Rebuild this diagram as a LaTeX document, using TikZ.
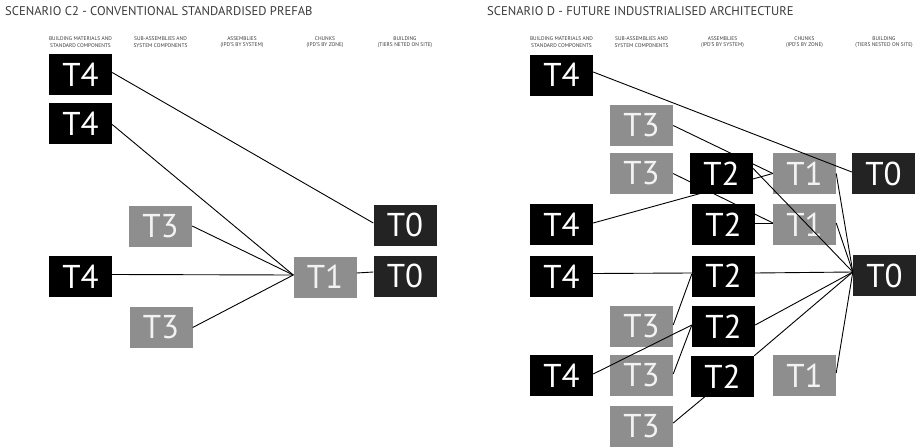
\documentclass[tikz,border=0pt]{standalone}
\usepackage{fontspec}
\setmainfont{PT Sans}
\pgfdeclarelayer{under}
\pgfdeclarelayer{over}
\pgfsetlayers{under,main,over}
\definecolor{tiergrey}{HTML}{8E8E8E}
\definecolor{tierdark}{HTML}{232323}
\definecolor{headgrey}{HTML}{3A3A3A}
\begin{document}
\begin{tikzpicture}[x=1pt,y=-1pt,
  tier/.style={minimum width=63pt,minimum height=41pt,inner sep=0pt,
    text=white,font=\fontsize{33}{33}\selectfont},
  blk/.style={tier,fill=black},
  gry/.style={tier,fill=tiergrey,text=white!95!black},
  drk/.style={tier,fill=tierdark},
  link/.style={line width=0.9pt,black},
  head/.style={font=\fontsize{5.4}{6.3}\selectfont,align=center,text=headgrey},
  title/.style={font=\fontsize{12.6}{12.6}\selectfont,anchor=west,inner sep=0pt,text=headgrey}
]
\useasboundingbox (0,0) rectangle (923,447);

% ---------- left panel: conventional standardised prefab ----------
\node[title] (lt) at (5,11) {SCENARIO C2 - CONVENTIONAL STANDARDISED PREFAB};
\node[head] (lh1) at (80.5,42) {BUILDING MATERIALS AND\\STANDARD COMPONENTS};
\node[head] (lh2) at (160.5,42) {SUB-ASSEMBLIES AND\\SYSTEM COMPONENTS};
\node[head] (lh3) at (242,42) {ASSEMBLIES\\(IPD'S BY SYSTEM)};
\node[head] (lh4) at (325,42) {CHUNKS\\(IPD'S BY ZONE)};
\node[head] (lh5) at (405,42) {BUILDING\\(TIERS NETED ON SITE)};

\node[blk] (l4a) at (80.5,74.5) {T4};
\node[blk] (l4b) at (80.5,123.5) {T4};
\node[gry] (l3a) at (160.5,226) {T3};
\node[blk] (l4c) at (80.5,276.5) {T4};
\node[gry] (l3b) at (161,327.5) {T3};
\node[gry] (l1)  at (325,277) {T1};
\node[drk] (l0a) at (405,225) {T0};
\node[drk] (l0b) at (405,276) {T0};

\draw[link] ([yshift=2pt]l4a.east) -- ([yshift=2pt]l0a.west);
\draw[link] ([yshift=-1pt]l4b.east) -- ([yshift=2pt]l1.west);
\draw[link] (l3a.east) -- ([yshift=2pt]l1.west);
\draw[link] ([yshift=2pt]l4c.east) -- ([yshift=2pt]l1.west);
\draw[link] (l3b.east) -- ([yshift=2pt]l1.west);
\draw[link] ([yshift=4pt]l1.east) -- ([yshift=4pt]l0b.west);

% ---------- right panel: future industrialised architecture ----------
\node[title] (rt) at (487,11) {SCENARIO D - FUTURE INDUSTRIALISED ARCHITECTURE};
\node[head] (rh1) at (561.5,42) {BUILDING MATERIALS AND\\STANDARD COMPONENTS};
\node[head] (rh2) at (641.5,42) {SUB-ASSEMBLIES AND\\SYSTEM COMPONENTS};
\node[head] (rh3) at (722.5,42) {ASSEMBLIES\\(IPD'S BY SYSTEM)};
\node[head] (rh4) at (804.5,42) {CHUNKS\\(IPD'S BY ZONE)};
\node[head] (rh5) at (884,42) {BUILDING\\(TIERS NESTED ON SITE)};

\node[blk] (r4a) at (561.5,75) {T4};
\node[gry] (r3a) at (641.5,125.5) {T3};
\node[gry] (r3b) at (641.5,173.5) {T3};
\node[blk] (r4b) at (561.5,224.5) {T4};
\node[blk] (r4c) at (561.5,276.5) {T4};
\node[gry] (r3c) at (641.5,326.5) {T3};
\node[blk] (r4d) at (561.5,375.5) {T4};
\node[gry] (r3d) at (641.5,375.5) {T3};
\node[gry] (r3e) at (641.5,426.5) {T3};
\node[drk] (r0a) at (883.5,173.5) {T0};
\node[drk] (r0b) at (884.5,275.5) {T0};

% chunks sit beneath the connectors
\begin{pgfonlayer}{under}
\node[gry] (r1a) at (804.5,173.5) {T1};
\node[gry] (r1b) at (804.5,224.5) {T1};
\node[gry] (r1c) at (804.5,375.5) {T1};
\end{pgfonlayer}

% assemblies sit above the connectors
\begin{pgfonlayer}{over}
\node[blk] (r2a) at (721.5,173.5) {T2};
\node[blk] (r2b) at (723.5,224.5) {T2};
\node[blk] (r2c) at (723.5,276) {T2};
\node[blk] (r2d) at (723.5,326.5) {T2};
\node[blk] (r2e) at (722.5,376.5) {T2};
\end{pgfonlayer}

\draw[link] ([yshift=3pt]r4a.east) -- ([yshift=1.5pt]r0a.west);
\draw[link] (r3a.east) -- (r1a.west);
\draw[link] ([yshift=1.5pt]r4b.east) -- (r1a.west);
\draw[link] (r3b.east) -- ([yshift=1.5pt]r1b.west);
\draw[link] ([yshift=1.5pt]r2b.east) -- ([yshift=1.5pt]r1b.west);
\draw[link] ([yshift=5pt]r2a.east) -- ([yshift=3.5pt]r0b.west);
\draw[link] (r1a.east) -- ([yshift=3.5pt]r0b.west);
\draw[link] ([yshift=1.5pt]r1b.east) -- ([yshift=3.5pt]r0b.west);
\draw[link] ([yshift=3pt]r2c.east) -- ([yshift=3.5pt]r0b.west);
\draw[link] ([yshift=3pt]r4c.east) -- ([yshift=3pt]r2c.west);
\draw[link] ([yshift=1.5pt]r3c.east) -- ([yshift=2pt]r2c.west);
\draw[link] ([yshift=1.5pt]r2d.east) -- ([yshift=3.5pt]r0b.west);
\draw[link] (r2e.north east) -- ([yshift=3.5pt]r0b.west);
\draw[link] ([yshift=2.5pt]r1c.east) -- ([yshift=3.5pt]r0b.west);
\draw[link] ([yshift=1.5pt]r4d.east) -- ([yshift=1.5pt]r2d.west);
\draw[link] ([yshift=1.5pt]r3d.east) -- ([yshift=1.5pt]r2d.west);
\draw[link] ([yshift=3.5pt]r3e.east) -- ([xshift=-3pt,yshift=-8pt]r2e.center);
\end{tikzpicture}
\end{document}
